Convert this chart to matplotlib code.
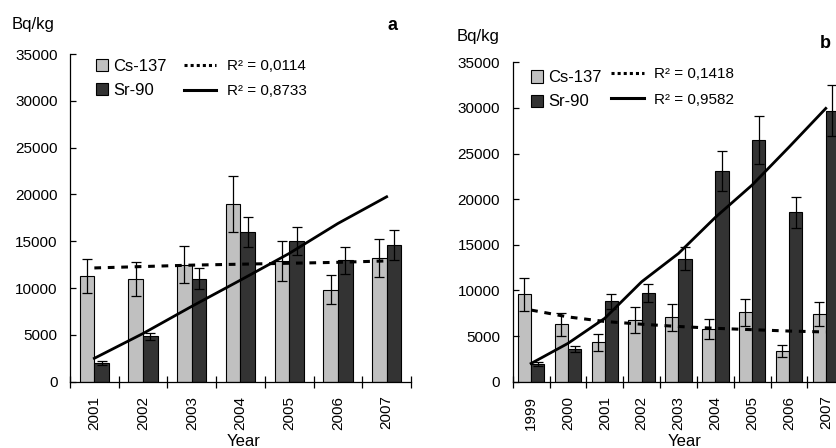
import numpy as np
import matplotlib.pyplot as plt
from matplotlib.patches import Patch
from matplotlib.lines import Line2D

plt.rcParams['font.family'] = ['Liberation Sans', 'DejaVu Sans']

# Panel a data (Bq/kg)
years_a = ['2001', '2002', '2003', '2004', '2005', '2006', '2007']
cs_a = [11300, 11000, 12500, 19000, 12900, 9800, 13200]
cs_a_err = [1800, 1800, 1950, 3000, 2100, 1550, 2050]
sr_a = [2000, 4850, 11000, 16000, 15000, 12950, 14600]
sr_a_err = [250, 400, 1100, 1600, 1500, 1400, 1550]
cs_a_trend = [12150, 12300, 12450, 12550, 12650, 12750, 12900]
sr_a_trend = [2500, 5150, 8050, 10850, 13700, 16900, 19750]
r2_a = ['R² = 0,0114', 'R² = 0,8733']

# Panel b data (Bq/kg)
years_b = ['1999', '2000', '2001', '2002', '2003', '2004', '2005', '2006', '2007']
cs_b = [9600, 6300, 4300, 6750, 7050, 5800, 7600, 3350, 7450]
cs_b_err = [1800, 1250, 900, 1400, 1450, 1100, 1450, 650, 1300]
sr_b = [1950, 3600, 8800, 9750, 13500, 23100, 26500, 18550, 29700]
sr_b_err = [250, 350, 800, 1000, 1300, 2150, 2600, 1700, 2800]
cs_b_trend = [7850, 7100, 6600, 6300, 6050, 5850, 5700, 5550, 5450]
sr_b_trend = [2000, 4200, 6950, 10950, 14050, 18000, 21550, 25700, 29950]
r2_b = ['R² = 0,1418', 'R² = 0,9582']

light = '#c0c0c0'
dark = '#333333'
W, H = 837, 448


def draw_panel(ax, years, cs, cs_err, sr, sr_err, cs_tr, sr_tr, r2, width,
               bar_leg_xy, line_leg_xy):
    x = np.arange(len(years))
    ax.bar(x - width, cs, width, align='edge', color=light, edgecolor='black',
           linewidth=0.8, yerr=cs_err, capsize=3.5,
           error_kw=dict(elinewidth=0.9, capthick=0.9, ecolor='black'))
    ax.bar(x, sr, width, align='edge', color=dark, edgecolor='black',
           linewidth=0.8, yerr=sr_err, capsize=3.5,
           error_kw=dict(elinewidth=0.9, capthick=0.9, ecolor='black'))
    # trend lines
    ax.plot(x, cs_tr, color='black', linewidth=2.2, linestyle=(0, (2.2, 2.2)))
    ax.plot(x, sr_tr, color='black', linewidth=2.0)

    ax.set_xlim(-0.5, len(years) - 0.5)
    ax.set_ylim(0, 35000)
    ax.set_yticks(np.arange(0, 35001, 5000))
    # ticks between groups, labels at group centres
    ax.set_xticks(np.arange(len(years) + 1) - 0.5)
    ax.set_xticklabels([])
    ax.set_xticks(x, minor=True)
    ax.set_xticklabels(years, minor=True, rotation=90)
    ax.tick_params(axis='x', which='major', direction='inout', length=8, width=0.9)
    ax.tick_params(axis='x', which='minor', length=0, labelsize=11, pad=10)
    ax.tick_params(axis='y', direction='in', length=4, width=0.9, labelsize=11, pad=9)
    for s in ['top', 'right']:
        ax.spines[s].set_visible(False)
    for s in ['left', 'bottom']:
        ax.spines[s].set_linewidth(0.9)

    bars_leg = ax.legend(
        handles=[Patch(facecolor=light, edgecolor='black', linewidth=0.8),
                 Patch(facecolor=dark, edgecolor='black', linewidth=0.8)],
        labels=['Cs-137', 'Sr-90'], loc='upper left', bbox_to_anchor=bar_leg_xy,
        frameon=False, handlelength=0.75, handleheight=0.75, handletextpad=0.3,
        labelspacing=0.55, borderpad=0, borderaxespad=0, fontsize=12)
    ax.add_artist(bars_leg)
    ax.legend(
        handles=[Line2D([], [], color='black', linewidth=2.2, linestyle=(0, (1, 1))),
                 Line2D([], [], color='black', linewidth=2.2)],
        labels=r2, loc='upper left', bbox_to_anchor=line_leg_xy,
        frameon=False, handlelength=2.1, handletextpad=0.7,
        labelspacing=0.75, borderpad=0, borderaxespad=0, fontsize=11)


fig = plt.figure(figsize=(W / 100, H / 100), dpi=100)

ax_a = fig.add_axes([70 / W, (H - 381.7) / H, 341 / W, 327.7 / H])
draw_panel(ax_a, years_a, cs_a, cs_a_err, sr_a, sr_a_err, cs_a_trend,
           sr_a_trend, r2_a, 0.30, (0.075, 0.985), (0.335, 0.985))
ax_a.set_xlabel('Year', fontsize=12)
ax_a.xaxis.set_label_coords(0.51, -0.16)

ax_b = fig.add_axes([512.7 / W, (H - 381.7) / H, 331.5 / W, 319.4 / H])
draw_panel(ax_b, years_b, cs_b, cs_b_err, sr_b, sr_b_err, cs_b_trend,
           sr_b_trend, r2_b, 0.36, (0.055, 0.975), (0.298, 0.985))
ax_b.set_xlabel('Year', fontsize=12)
ax_b.xaxis.set_label_coords(0.52, -0.165)

fig.text(33 / W, 1 - 24 / H, 'Bq/kg', fontsize=12, ha='center', va='center')
fig.text(478 / W, 1 - 36 / H, 'Bq/kg', fontsize=12, ha='center', va='center')
fig.text(393 / W, 1 - 26 / H, 'a', fontsize=13, fontweight='bold', ha='center', va='center')
fig.text(825 / W, 1 - 43 / H, 'b', fontsize=13, fontweight='bold', ha='center', va='center')

fig.savefig('out.png', dpi=100)
